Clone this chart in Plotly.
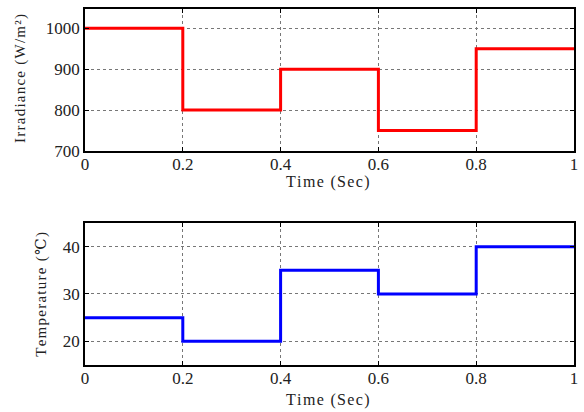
import plotly.graph_objects as go
from plotly.subplots import make_subplots

time_s = [0, 0.2, 0.4, 0.6, 0.8, 1.0]
irradiance = [1000, 800, 900, 750, 950, 950]
temperature = [25, 20, 35, 30, 40, 40]
x_ticks = [0, 0.2, 0.4, 0.6, 0.8, 1]
x_ticklabels = ["0", "0.2", "0.4", "0.6", "0.8", "1"]
irr_ticks = [700, 800, 900, 1000]
temp_ticks = [20, 30, 40]
x_title = "Time (Sec)"
irr_title = "Irradiance (W/m²)"
temp_title = "Temperature (℃)"

HS = "\u200a"
def spaced(s):
    return HS.join(list(s))

fig = make_subplots(rows=2, cols=1, vertical_spacing=0.2)
fig.add_trace(go.Scatter(x=time_s, y=irradiance, mode="lines", line=dict(color="#ff0000", width=3, shape="hv")), row=1, col=1)
fig.add_trace(go.Scatter(x=time_s, y=temperature, mode="lines", line=dict(color="#0000ff", width=3, shape="hv")), row=2, col=1)

FAM = "Liberation Serif, DejaVu Serif, serif"
tickfont = dict(family=FAM, size=17, color="#222")
axis_common = dict(showline=True, linecolor="black", linewidth=1.5, mirror="ticks",
                   ticks="inside", ticklen=4, tickcolor="black",
                   showgrid=True, gridcolor="#777", griddash="dot", gridwidth=1,
                   zeroline=False, tickfont=tickfont, automargin=False)

fig.update_xaxes(range=[0, 1], tickvals=x_ticks, ticktext=x_ticklabels,
                 ticklabelstandoff=-3, **axis_common)
fig.update_yaxes(**axis_common)
fig.update_yaxes(range=[700, 1047], tickvals=irr_ticks, domain=[0.601, 1], row=1, col=1)
fig.update_yaxes(range=[15, 45], tickvals=temp_ticks, domain=[0, 0.399], row=2, col=1)

tfont = dict(family=FAM, size=16, color="#222")
yfont = dict(family=FAM, size=15, color="#222")
fig.add_annotation(text=spaced(x_title), xref="paper", yref="paper", x=0.496, y=0.513,
                   xanchor="center", yanchor="middle", showarrow=False, font=tfont)
fig.add_annotation(text=spaced(x_title), xref="paper", yref="paper", x=0.496, y=-0.098,
                   xanchor="center", yanchor="middle", showarrow=False, font=tfont)
fig.add_annotation(text=spaced(irr_title), xref="paper", yref="paper", x=-0.133, y=0.806,
                   xanchor="center", yanchor="middle", textangle=-90, showarrow=False, font=yfont)
fig.add_annotation(text=spaced(temp_title), xref="paper", yref="paper", x=-0.088, y=0.2,
                   xanchor="center", yanchor="middle", textangle=-90, showarrow=False, font=yfont)

fig.update_layout(width=584, height=412, margin=dict(l=85, r=10, t=9, b=47),
                  plot_bgcolor="white", paper_bgcolor="white", showlegend=False)
fig.write_html("out.html", config={"displayModeBar": False},
               post_script="document.body.style.margin='0';document.body.style.overflow='hidden';")
